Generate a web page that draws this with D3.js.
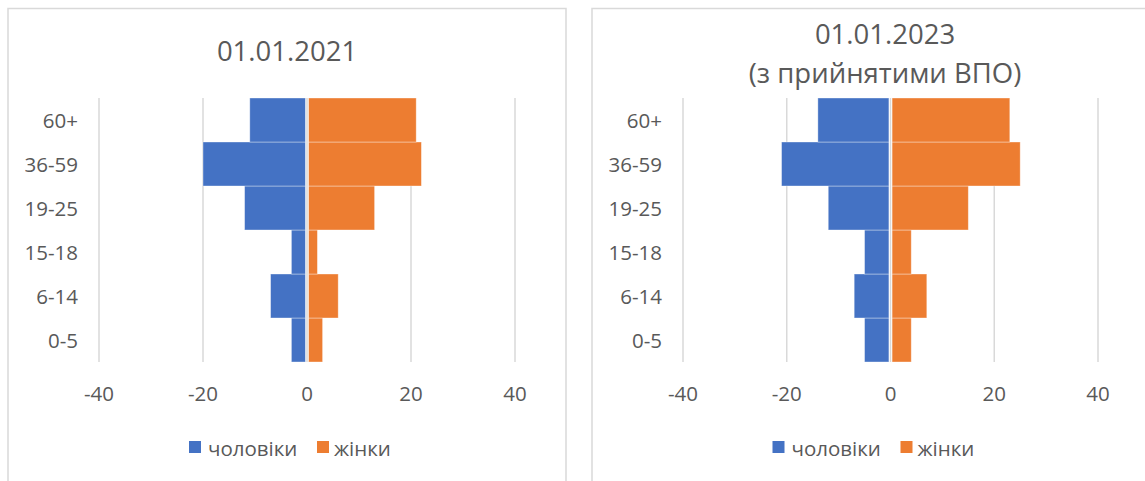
<!DOCTYPE html>
<html>
<head>
<meta charset="utf-8">
<script src="https://cdn.jsdelivr.net/npm/d3@7"></script>
<style>
  body { margin: 0; background: #fff; }
  svg { display: block; }
  text { font-family: "Open Sans", "Noto Sans", sans-serif; fill: #595959; }
</style>
</head>
<body>
<svg id="chart" width="1145" height="481"></svg>
<script>
// ---- data ----
const categories = ["0-5", "6-14", "15-18", "19-25", "36-59", "60+"];
const seriesNames = ["чоловіки", "жінки"];
const men2021 = [-3, -7, -3, -12, -20, -11];
const women2021 = [3, 6, 2, 13, 22, 21];
const men2023 = [-5, -7, -5, -12, -21, -14];
const women2023 = [4, 7, 4, 15, 25, 23];
const xTicks = [-40, -20, 0, 20, 40];
const titles2021 = ["01.01.2021"];
const titles2023 = ["01.01.2023", "(з прийнятими ВПО)"];
const colors = ["#4472C4", "#ED7D31"];

const svg = d3.select("#chart");

function drawPanel(opt) {
  const g = svg.append("g");
  // panel border
  g.append("rect")
    .attr("x", opt.bx).attr("y", 8.5)
    .attr("width", opt.bw).attr("height", 490)
    .attr("fill", "none").attr("stroke", "#d9d9d9").attr("stroke-width", 1.5);

  const x = d3.scaleLinear().domain([-40, 40]).range([opt.x0, opt.x1]);
  const y = d3.scaleBand().domain(categories.slice().reverse()).range([98, 362]).padding(0);

  // gridlines
  g.selectAll("line.grid").data(xTicks).enter().append("line")
    .attr("x1", d => x(d)).attr("x2", d => x(d))
    .attr("y1", 98).attr("y2", 362)
    .attr("stroke", "#d9d9d9").attr("stroke-width", 1.5);

  // bars
  const men = categories.map((c, i) => ({c, v: opt.men[i]}));
  const women = categories.map((c, i) => ({c, v: opt.women[i]}));
  g.selectAll("rect.m").data(men).enter().append("rect")
    .attr("x", d => x(d.v)).attr("y", d => y(d.c))
    .attr("width", d => x(0) - 1.6 - x(d.v)).attr("height", y.bandwidth())
    .attr("fill", colors[0]).attr("stroke", "#ffffff").attr("stroke-opacity", 0.45).attr("stroke-width", 0.8);
  g.selectAll("rect.w").data(women).enter().append("rect")
    .attr("x", x(0) + 1.6).attr("y", d => y(d.c))
    .attr("width", d => x(d.v) - x(0) - 1.6).attr("height", y.bandwidth())
    .attr("fill", colors[1]).attr("stroke", "#ffffff").attr("stroke-opacity", 0.45).attr("stroke-width", 0.8);

  // y labels
  g.selectAll("text.yl").data(categories).enter().append("text")
    .attr("x", x(-40) - 21).attr("y", d => y(d) + y.bandwidth() / 2)
    .attr("text-anchor", "end").attr("dominant-baseline", "central")
    .attr("font-size", 20.5).text(d => d);

  // x labels
  g.selectAll("text.xl").data(xTicks).enter().append("text")
    .attr("x", d => x(d)).attr("y", 393)
    .attr("text-anchor", "middle").attr("dominant-baseline", "central")
    .attr("font-size", 20.5).text(d => d < 0 ? "-" + Math.abs(d) : d);

  // title
  opt.title.forEach((t, i) => {
    g.append("text")
      .attr("x", opt.tcx).attr("y", opt.ty + i * 39)
      .attr("text-anchor", "middle").attr("dominant-baseline", "central")
      .attr("font-size", 27.5).text(t);
  });

  // legend
  const lx = x(0) - 118;
  const items = [
    {name: seriesNames[0], col: colors[0], sx: lx, tx: lx + 19},
    {name: seriesNames[1], col: colors[1], sx: lx + 128, tx: lx + 145}
  ];
  items.forEach(it => {
    g.append("rect").attr("x", it.sx).attr("y", 441).attr("width", 12).attr("height", 12).attr("fill", it.col);
    g.append("text").attr("x", it.tx).attr("y", 447.5)
      .attr("dominant-baseline", "central").attr("font-size", 20.5).text(it.name);
  });
}

drawPanel({bx: 8, bw: 558, x0: 99, x1: 515, men: men2021, women: women2021, title: titles2021, tcx: 287, ty: 50});
drawPanel({bx: 592, bw: 570, x0: 683, x1: 1098, men: men2023, women: women2023, title: titles2023, tcx: 885, ty: 33});
</script>
</body>
</html>
